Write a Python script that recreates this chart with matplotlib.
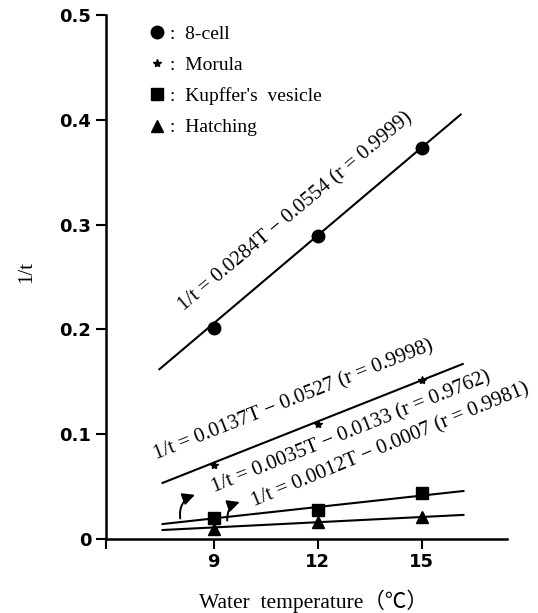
import matplotlib
matplotlib.use('Agg')
import matplotlib.pyplot as plt

# Stages and water temperatures
stages = ['8-cell', 'Morula', "Kupffer's  vesicle", 'Hatching']
temps = [9, 12, 15]

# 1/t
rate_8cell = [0.201, 0.289, 0.373]
rate_morula = [0.071, 0.110, 0.152]
rate_kupffer = [0.020, 0.028, 0.044]
rate_hatching = [0.010, 0.016, 0.021]

# regression line ends (T, 1/t) as drawn in the figure
line_t = [[7.44, 16.12], [7.53, 16.18], [7.53, 16.2], [7.53, 16.2]]
line_y = [[0.162, 0.405], [0.0535, 0.167], [0.0143, 0.0458], [0.0086, 0.023]]

equations = ['1/t = 0.0284T − 0.0554 (r = 0.9999)',
             '1/t = 0.0137T − 0.0527 (r = 0.9998)',
             '1/t = 0.0035T − 0.0133 (r = 0.9762)',
             '1/t = 0.0012T − 0.0007 (r = 0.9981)']

serif = ['Liberation Serif', 'Noto Sans CJK JP', 'DejaVu Serif']
markers = ['o', '*', 's', '^']
sizes = [9, 6, 8.5, 9]
values = [rate_8cell, rate_morula, rate_kupffer, rate_hatching]

fig = plt.figure(figsize=(5.38, 6.13), dpi=100)
ax = fig.add_axes([0.197, 0.1207, 0.745, 0.8548])

handles = []
for name, vals, lt, ly, m, ms in zip(stages, values, line_t, line_y, markers, sizes):
    ax.plot(lt, ly, color='black', linewidth=1.5, zorder=2)
    h, = ax.plot(temps, vals, linestyle='none', marker=m, markersize=ms,
                 color='black', zorder=3, label=':  ' + name)
    handles.append(h)

# equation labels (position, rotation in screen degrees)
eq_pos = [(8.16, 0.217, 40), (7.36, 0.0755, 21.6), (9.03, 0.0439, 22.0), (10.18, 0.0306, 22.5)]
for txt, (tx, ty, rot) in zip(equations, eq_pos):
    ax.text(tx, ty, txt, rotation=rot, rotation_mode='anchor', ha='left', va='baseline',
            fontsize=15, family=serif, clip_on=False)

# small curved arrows pointing to the two lower equations
ax.annotate('', xy=(8.54, 0.043), xytext=(8.05, 0.017),
            arrowprops=dict(arrowstyle='-|>', color='black', lw=1.4,
                            connectionstyle='arc3,rad=-0.45', mutation_scale=18))
ax.annotate('', xy=(9.83, 0.036), xytext=(9.40, 0.015),
            arrowprops=dict(arrowstyle='-|>', color='black', lw=1.4,
                            connectionstyle='arc3,rad=-0.45', mutation_scale=18))

ax.legend(handles=handles, loc='upper left', bbox_to_anchor=(0.0875, 0.996),
          frameon=False, handlelength=0.8, handletextpad=0.3, labelspacing=0.7,
          prop={'family': serif, 'size': 14}, borderaxespad=0.0)

ax.set_xlim(5.9, 17.45)
ax.set_ylim(0, 0.5)
ax.set_xticks([9, 12, 15])
ax.set_yticks([0, 0.1, 0.2, 0.3, 0.4, 0.5])
ax.set_yticklabels(['0', '0.1', '0.2', '0.3', '0.4', '0.5'])
ax.set_xticks([5.9], minor=True)
ax.tick_params(axis='x', which='minor', direction='out', length=7, width=1.5)
ax.tick_params(axis='both', which='major', direction='out', length=7, width=1.5,
               labelsize=13)
ax.tick_params(axis='x', pad=3)
for lab in ax.get_xticklabels() + ax.get_yticklabels():
    lab.set_fontweight('bold')
    lab.set_family('DejaVu Sans')

for side in ['top', 'right']:
    ax.spines[side].set_visible(False)
for side in ['left', 'bottom']:
    ax.spines[side].set_linewidth(1.8)

fig.text(27 / 538, 1 - 272 / 613, '1/t', rotation=90, ha='center', va='center',
         fontsize=15, family=serif)
fig.text(0.582, 1 - 601 / 613, 'Water  temperature（℃）', ha='center', va='center',
         fontsize=15.5, family=serif)

fig.savefig('out.png', dpi=100)
plt.close(fig)
